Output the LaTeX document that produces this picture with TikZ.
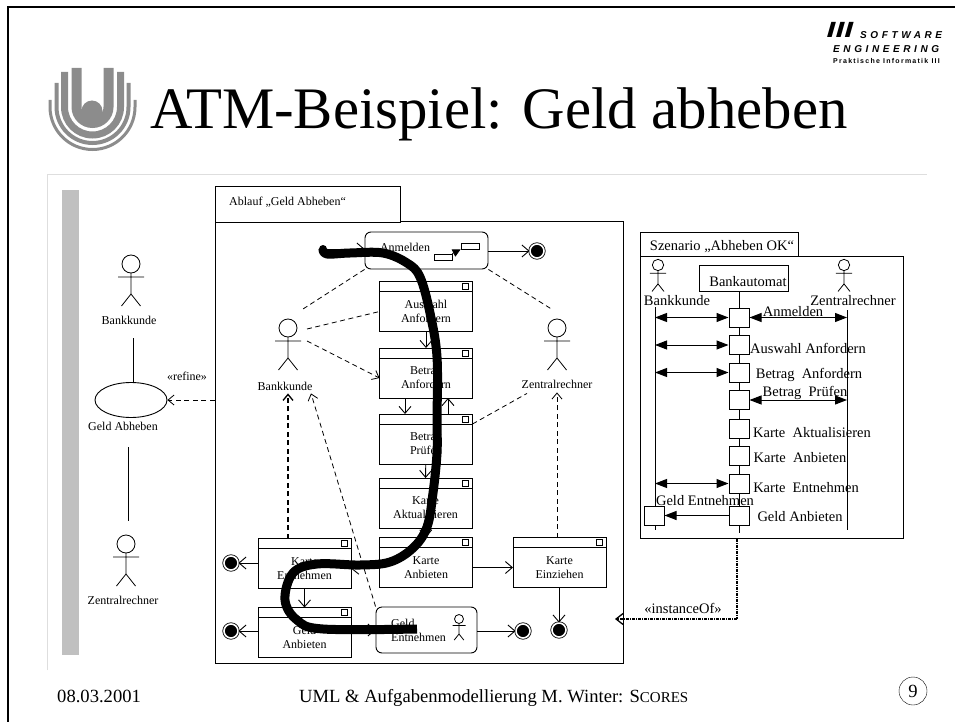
\documentclass[tikz,border=0pt]{standalone}
\usepackage{fontspec}
\usepackage{xcolor}
\usepackage{tikz}
\usetikzlibrary{positioning, shapes.geometric, arrows.meta}
\setmainfont{Liberation Serif}
\newfontfamily\logofont[LetterSpace=36]{Liberation Sans}
\newfontfamily\logosmall[LetterSpace=18]{Liberation Sans}
\newfontfamily\logoplain{Liberation Sans}
\definecolor{barGray}{RGB}{192,192,192}
\definecolor{panelGray}{RGB}{222,222,222}
\definecolor{logoGray}{RGB}{140,140,140}

\begin{document}
\begin{tikzpicture}[
    x=1pt, y=1pt,
    % Node styles
    winbody/.style={rectangle, draw, line width=.9pt, fill=white, minimum width=93pt, minimum height=40pt, inner sep=0pt, outer sep=0pt, align=center, font=\fontsize{12}{14}\selectfont},
    winbar/.style={rectangle, draw, line width=.9pt, fill=white, minimum width=93pt, minimum height=10pt, inner sep=0pt, outer sep=0pt},
    winsq/.style={rectangle, draw, line width=.9pt, fill=white, minimum size=6pt, inner sep=0pt},
    roundbox/.style={rectangle, rounded corners=6pt, draw, line width=.9pt, fill=white, inner sep=0pt},
    endstate/.style={circle, draw, line width=.8pt, fill=black, minimum size=14pt, inner sep=0pt, double, double distance=1.6pt},
    small/.style={inner sep=0pt, font=\fontsize{12}{14}\selectfont},
    msg/.style={inner sep=0pt, font=\fontsize{14.5}{16}\selectfont},
    foot/.style={inner sep=0pt, font=\fontsize{18.6}{20}\selectfont},
    act/.style={rectangle, draw, fill=white, line width=1pt, minimum width=20pt, minimum height=19pt, inner sep=0pt},
    tabbox/.style={rectangle, draw, line width=1pt, fill=white, inner sep=0pt},
    % Edge styles
    flow/.style={draw, line width=.9pt, -{Straight Barb[length=7pt,width=12pt]}},
    dep/.style={draw, line width=.8pt, dash pattern=on 5pt off 3.5pt},
    deparrow/.style={dep, -{Straight Barb[length=6pt,width=10pt]}},
    call/.style={draw, line width=1pt, {Stealth[length=12pt,width=9pt,inset=0pt]}-{Stealth[length=12pt,width=9pt,inset=0pt]}},
    walk/.style={draw, line width=9pt, line join=round},
    % Stick figure
    actor/.pic={
        \draw[thick] (0,0) circle (9);
        \draw[thick] (0,-9) -- (0,-30) (-13,-13) -- (13,-13) (-9.5,-42) -- (0,-30) -- (9.5,-42);
    }
]
\useasboundingbox (0,0) rectangle (955,-722);

% Slide frame
\draw[line width=2.2pt] (8,-722) -- (8,-7) -- (955,-7);
\draw[panelGray, thick] (47,-670) -- (47,-174) -- (927,-174);
\fill[barGray] (62,-190) rectangle (79,-655);

% University logo
\draw[logoGray, line width=10pt] (76.5,-68) -- (76.5,-107) arc (180:360:16) -- (108.5,-68);
\draw[logoGray, line width=7pt] (64.5,-72) -- (64.5,-107) arc (180:360:28) -- (120.5,-72);
\draw[logoGray, line width=4pt] (56.5,-83) -- (56.5,-107) arc (180:360:36) -- (128.5,-83);
\draw[logoGray, line width=3pt] (50,-100) -- (50,-107) arc (180:360:42.5) -- (135,-100);
\node[circle, fill=logoGray, minimum size=21pt, inner sep=0pt] (logodot) at (92,-111) {};

% Group logo
\node[inner sep=0pt, xscale=1.45, font=\fontsize{22}{24}\selectfont\logoplain\bfseries\itshape] (logoiii) at (840,-30) {III};
\node[inner sep=0pt, anchor=west, font=\fontsize{10}{10}\selectfont\logofont\bfseries\itshape] (logosoft) at (860,-35) {SOFTWARE};
\node[inner sep=0pt, anchor=west, font=\fontsize{10}{10}\selectfont\logofont\bfseries\itshape] (logoeng) at (833,-49) {ENGINEERING};
\node[inner sep=0pt, anchor=west, font=\fontsize{7}{7}\selectfont\logosmall\bfseries] (logoprak) at (833,-61) {Praktische Informatik III};

% Title and footer
\node[inner sep=0pt, anchor=base west, font=\fontsize{58.8}{60}\selectfont] (title) at (150,-129) {ATM-Beispiel: Geld abheben};
\node[foot, anchor=base west] (date) at (57,-702) {08.03.2001};
\node[foot, anchor=base west] (footer) at (299,-702) {UML \& Aufgabenmodellierung M. Winter: S{\fontsize{15}{15}\selectfont CORES}};
\node[foot, circle, draw, minimum size=28pt] (pageno) at (913,-691) {9};

% Use case part
\pic at (131,-264) {actor};
\node[small] (ucbank) at (129,-320) {Bankkunde};
\node[ellipse, draw, line width=.9pt, minimum width=72pt, minimum height=35pt, inner sep=0pt] (ucgeld) at (131,-400) {};
\node[small] (ucgeldtext) at (123,-426) {Geld Abheben};
\pic at (126,-544) {actor};
\node[small] (uczentral) at (123,-600) {Zentralrechner};
\node[small] (refine) at (187,-376) {«refine»};
\coordinate (ucbanklink) at (133,-338);
\coordinate (uczen1) at (128,-447);
\coordinate (uczen2) at (128,-521);

% Activity part - frame
\node[rectangle, draw, line width=1pt, minimum width=408pt, minimum height=442pt, inner sep=0pt] (ablauf) at (419,-442) {};
\node[tabbox, minimum width=185pt, minimum height=35pt] (ablauftab) at (307.5,-204.5) {};
\node[small, anchor=west] (ablauftext) at (229,-202) {Ablauf „Geld Abheben“};

% Activity part - start and login
\node[circle, fill=black, minimum size=8pt, inner sep=0pt] (start) at (323,-249) {};
\node[roundbox, minimum width=123pt, minimum height=37pt] (anm) at (426.5,-250.5) {};
\node[small] (anmtext) at (405,-247) {Anmelden};
\node[rectangle, draw, fill=white, line width=.8pt, minimum width=18pt, minimum height=6pt, inner sep=0pt] (anmsub1) at (443,-257) {};
\node[rectangle, draw, fill=white, line width=.8pt, minimum width=18pt, minimum height=6pt, inner sep=0pt] (anmsub2) at (470,-246) {};
\node[endstate] (endanm) at (537,-251) {};

% Activity part - windows
\node[winbody] (ausw) at (426,-311.5) {Auswahl\\Anfordern};
\node[winbar, above=0pt of ausw] (auswbar) {};
\node[winsq] (auswsq) at ([xshift=-7pt]auswbar.east) {};

\node[winbody] (banf) at (426,-378) {Betrag\\Anfordern};
\node[winbar, above=0pt of banf] (banfbar) {};
\node[winsq] (banfsq) at ([xshift=-7pt]banfbar.east) {};

\node[winbody] (bpru) at (426,-444) {Betrag\\Prüfen};
\node[winbar, above=0pt of bpru] (bprubar) {};
\node[winsq] (bprusq) at ([xshift=-7pt]bprubar.east) {};

\node[winbody] (kakt) at (425.5,-508) {Karte\\Aktualisieren};
\node[winbar, above=0pt of kakt] (kaktbar) {};
\node[winsq] (kaktsq) at ([xshift=-7pt]kaktbar.east) {};

\node[winbody] (kanb) at (426,-567.5) {Karte\\Anbieten};
\node[winbar, above=0pt of kanb] (kanbbar) {};
\node[winsq] (kanbsq) at ([xshift=-7pt]kanbbar.east) {};

\node[winbody] (kein) at (559.5,-567.5) {Karte\\Einziehen};
\node[winbar, above=0pt of kein] (keinbar) {};
\node[winsq] (keinsq) at ([xshift=-7pt]keinbar.east) {};

\node[winbody] (kent) at (304.5,-568.5) {Karte\\Entnehmen};
\node[winbar, above=0pt of kent] (kentbar) {};
\node[winsq] (kentsq) at ([xshift=-7pt]kentbar.east) {};

\node[winbody] (gan) at (304.5,-637.5) {Geld\\Anbieten};
\node[winbar, above=0pt of gan] (ganbar) {};
\node[winsq] (gansq) at ([xshift=-7pt]ganbar.east) {};

% Activity part - money box
\node[roundbox, minimum width=101pt, minimum height=46pt] (gent) at (426.5,-630) {};
\node[small, align=left, anchor=west] (genttext) at (391,-630) {Geld\\Entnehmen};
\pic[scale=.5] at (459,-619) {actor};

% Activity part - end states
\node[endstate] (endkent) at (231,-563) {};
\node[endstate] (endgan) at (231,-631) {};
\node[endstate] (endgent) at (523,-631) {};
\node[endstate] (endkein) at (559,-630) {};

% Activity part - actors
\pic at (288,-328) {actor};
\node[small] (bank) at (285,-386) {Bankkunde};
\pic at (557,-328) {actor};
\node[small] (zentral) at (557,-384) {Zentralrechner};
\coordinate (bankup) at (303,-309);
\coordinate (bankmid) at (307,-329);
\coordinate (banklow) at (307,-341);
\coordinate (zentralup) at (553,-310);

% Scenario part - frame
\node[rectangle, draw, line width=1pt, minimum width=263pt, minimum height=282pt, inner sep=0pt] (szen) at (771.5,-397) {};
\node[tabbox, minimum width=158pt, minimum height=24pt] (szentab) at (719,-244) {};
\node[msg] (szentext) at (722,-247) {Szenario „Abheben OK“};

% Scenario part - heads
\pic[scale=.63] at (658,-265) {actor};
\node[msg] (skunde) at (677,-301) {Bankkunde};
\pic[scale=.63] at (844,-265) {actor};
\node[msg] (srechner) at (853,-301) {Zentralrechner};
\node[rectangle, draw, line width=1pt, minimum width=89pt, minimum height=26pt, inner sep=0pt] (baut) at (743.5,-278) {};
\node[msg] (bauttext) at (748,-282) {Bankautomat};

% Scenario part - lifelines
\coordinate (lifeL) at (655,-307);
\coordinate (lifeLend) at (655,-530);
\coordinate (lifeR) at (847,-310);
\coordinate (lifeRend) at (847,-530);
\coordinate (lifeMend) at (739,-533);
\draw[thick] (lifeL) -- (lifeLend);
\draw[thick] (lifeR) -- (lifeRend);
\draw[thick] (baut.south -| lifeMend) -- (lifeMend);

% Scenario part - activations
\node[act] (a1) at (739,-317.5) {};
\node[act] (a2) at (739,-345) {};
\node[act] (a3) at (739,-372.5) {};
\node[act] (a4) at (739,-400) {};
\node[act] (a5) at (739,-428.5) {};
\node[act] (a6) at (739,-456) {};
\node[act] (a7) at (739,-483.5) {};
\node[act] (a8) at (739,-515.5) {};
\node[act] (a9) at (654,-515.5) {};

% Scenario part - messages
\node[msg] (m1) at (793,-312) {Anmelden};
\node[msg] (m2) at (808,-348) {Auswahl Anfordern};
\node[msg] (m3) at (809,-375) {Betrag\ \ Anfordern};
\node[msg] (m4) at (805,-393) {Betrag\ \ Prüfen};
\node[msg] (m5) at (812,-433) {Karte\ \ Aktualisieren};
\node[msg] (m6) at (800,-458) {Karte\ \ Anbieten};
\node[msg] (m7) at (806,-488) {Karte\ \ Entnehmen};
\node[msg] (m8) at (705,-501) {Geld Entnehmen};
\node[msg] (m9) at (800,-517) {Geld Anbieten};

% Scenario part - arrows
\draw[call] (a1.west -| lifeL) -- (a1.west);
\draw[call] (a1.east) -- (a1.east -| lifeR);
\draw[call] (a2.west -| lifeL) -- (a2.west);
\draw[call] (a3.west -| lifeL) -- (a3.west);
\draw[call] (a4.east) -- (a4.east -| lifeR);
\draw[call] (a7.west -| lifeL) -- (a7.west);
\draw[draw, line width=1pt, -{Stealth[length=12pt,width=9pt,inset=0pt]}] (a8.west) -- (a9.east);

% Use case edges
\draw[thick] (ucbanklink) -- (ucgeld.north -| ucbanklink);
\draw[thick] (uczen1) -- (uczen2);
\draw[deparrow, thick] (ablauf.west |- ucgeld) -- (ucgeld.east);

% Activity flow edges
\draw[flow] (start) -- (anm.west |- start);
\draw[flow] (anm.east |- endanm) -- (endanm);
\draw[-{Stealth[length=8pt,width=8pt,inset=0pt]}, thick] (anmsub1.north east) -- (anmsub2.south west);
\draw[flow] (ausw) -- (banfbar);
\draw[flow] ([xshift=-21pt]banf.south) -- ([xshift=-21pt]bprubar.north);
\draw[flow] ([xshift=22pt]bprubar.north) -- ([xshift=22pt]banf.south);
\draw[flow] (bpru) -- (kaktbar);
\draw[flow] (kakt) -- (kanbbar);
\draw[flow] (kanb.east) -- (kein.west);
\draw[flow] (kanb.west) -- (kent.east);
\draw[flow] (kent) -- (ganbar);
\draw[flow] (kent.west |- endkent) -- (endkent);
\draw[flow] (gan.west |- endgan) -- (endgan);
\draw[flow] (gan.east |- gent) -- (gent.west);
\draw[flow] ([yshift=-1pt]gent.east) -- (endgent);
\draw[flow] (kein.south -| endkein) -- (endkein);

% Activity dependency edges
\draw[dep] (anm.south west) -- (bankup);
\draw[dep] (anm.south east) -- (zentralup);
\draw[dep] (bankmid) -- (ausw.west);
\draw[deparrow] (banklow) -- (banf.west);
\draw[dep] (bpru.north east) -- ([xshift=-30pt,yshift=-5pt]zentral.south);
\draw[deparrow, line width=1.3pt] (kentbar.north -| bank.south) ++(3,0) -- ([xshift=3pt,yshift=-3pt]bank.south);
\draw[deparrow] (gent.north west) -- ([xshift=26pt,yshift=-3pt]bank.south);
\draw[deparrow] (keinbar.north -| zentral.south) -- ([yshift=-4pt]zentral.south);

% Scenario to activity
\coordinate (inst) at (737,-619);
\node[msg] (insttext) at (683,-608) {«instanceOf»};
\draw[line width=1.3pt, dash pattern=on 3pt off 1pt on 1pt off 1pt] (szen.south -| inst) -- (inst);
\draw[line width=1.3pt, dash pattern=on 3pt off 1pt on 1pt off 1pt, -{Straight Barb[length=7pt,width=11pt]}] (inst) -- (615,-619);

% Pen stroke over the flow
\draw[walk] plot[smooth, tension=.6] coordinates {(start) (327,-254) (350,-253) (383,-253) (407,-263) (420,-277) (430,-313) (437,-357) (437,-420) (437,-453) (433,-493) (427,-527) (413,-548) (390,-562) (360,-565) (317,-564) (293,-573) (285,-600) (297,-620) (323,-629) (417,-629)};

\end{tikzpicture}
\end{document}
